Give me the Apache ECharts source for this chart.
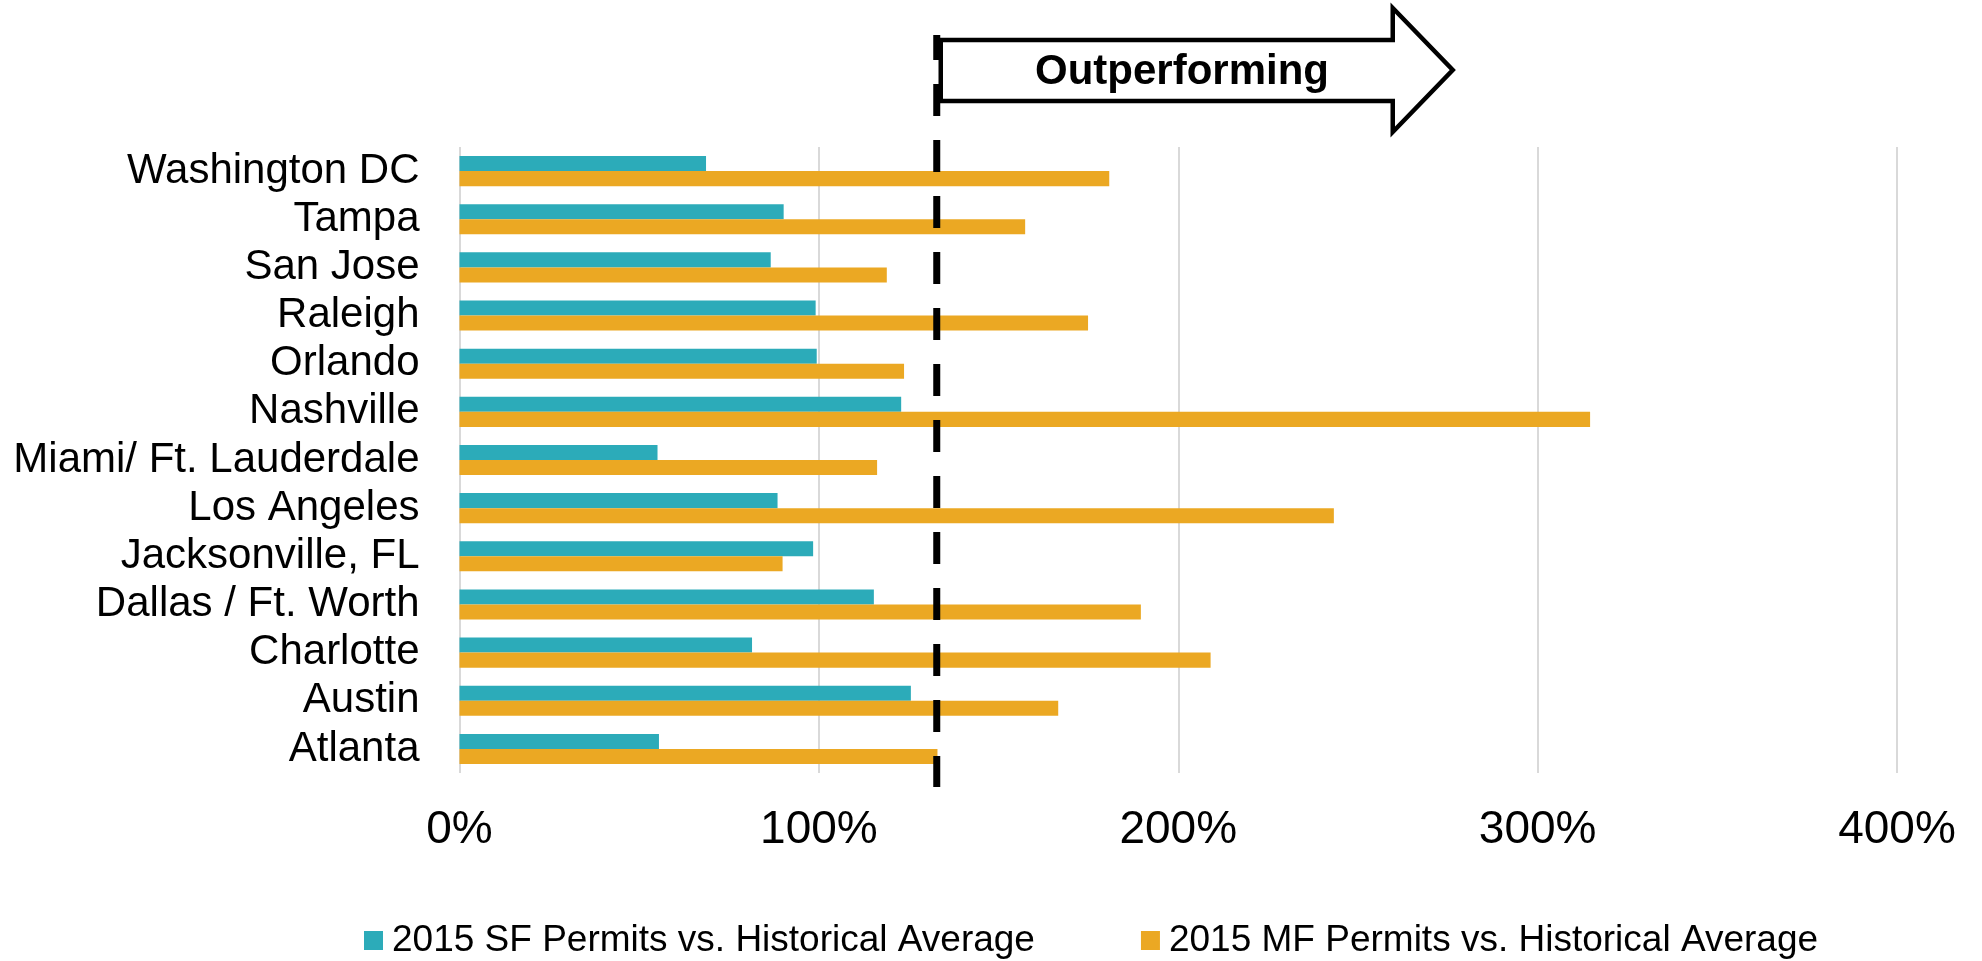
<!DOCTYPE html>
<html>
<head>
<meta charset="utf-8">
<script src="https://cdn.jsdelivr.net/npm/echarts@6/dist/echarts.min.js"></script>
<style>
html,body{margin:0;padding:0;background:#fff;}
#chart{width:1982px;height:961px;}
</style>
</head>
<body>
<div id="chart"></div>
<script>
// Categories bottom to top (ECharts category y-axis starts at bottom)
const categories = ['Atlanta','Austin','Charlotte','Dallas / Ft. Worth','Jacksonville, FL','Los Angeles','Miami/ Ft. Lauderdale','Nashville','Orlando','Raleigh','San Jose','Tampa','Washington DC'];
const sfValues = [55.5, 125.6, 81.4, 115.3, 98.4, 88.5, 55.1, 122.9, 99.4, 99.1, 86.6, 90.2, 68.6];
const mfValues = [133.0, 166.6, 209.0, 189.6, 89.9, 243.3, 116.2, 314.6, 123.7, 174.9, 118.9, 157.4, 180.8];
const seriesNames = ['2015 SF Permits vs. Historical Average', '2015 MF Permits vs. Historical Average'];
const xTicks = [0, 100, 200, 300, 400];
const threshold = 132.8;
const annotationText = 'Outperforming';

const FONT = '"Liberation Sans", Arial, sans-serif';
const TEAL = '#2CABB9';
const ORANGE = '#EBA823';

const chart = echarts.init(document.getElementById('chart'), null, {renderer: 'canvas'});
chart.setOption({
  animation: false,
  backgroundColor: '#fff',
  textStyle: {fontFamily: FONT},
  grid: {left: 459.5, right: 85, top: 147, bottom: 188, containLabel: false},
  legend: {
    data: seriesNames,
    left: 359,
    top: 917,
    itemWidth: 19,
    itemHeight: 19,
    itemGap: 106,
    icon: 'rect',
    textStyle: {fontSize: 37, color: '#000', fontFamily: FONT, padding: [0,0,0,4]}
  },
  xAxis: {
    type: 'value',
    min: xTicks[0],
    max: xTicks[xTicks.length - 1],
    interval: 100,
    axisLine: {show: false},
    axisTick: {show: false},
    splitLine: {show: true, lineStyle: {color: '#D9D9D9', width: 2}},
    axisLabel: {fontSize: 46, color: '#000', fontFamily: FONT, margin: 34, formatter: v => v + '%'}
  },
  yAxis: {
    type: 'category',
    data: categories,
    axisLine: {show: false},
    axisTick: {show: false},
    axisLabel: {interval: 0, fontSize: 42, color: '#000', fontFamily: FONT, margin: 40}
  },
  series: [
    {name: seriesNames[0], type: 'bar', data: sfValues, itemStyle: {color: TEAL}, barGap: '0%', barCategoryGap: '37.5%'},
    {name: seriesNames[1], type: 'bar', data: mfValues, itemStyle: {color: ORANGE}, barGap: '0%', barCategoryGap: '37.5%'}
  ]
});

const tx = chart.convertToPixel({xAxisIndex: 0}, threshold);
const ax = tx + 4;
chart.setOption({
  graphic: [
    {
      type: 'polygon',
      shape: {points: [[ax, 40], [ax + 452, 40], [ax + 452, 8], [ax + 512, 70], [ax + 452, 132], [ax + 452, 101], [ax, 101]]},
      style: {fill: '#fff', stroke: '#000', lineWidth: 4.5, lineJoin: 'miter'},
      z: 100
    },
    {
      type: 'text',
      x: 1182, y: 72,
      style: {text: annotationText, font: 'bold 42px ' + FONT, fill: '#000', textAlign: 'center', textVerticalAlign: 'middle'},
      z: 101
    },
    {
      type: 'line',
      shape: {x1: tx, y1: 35, x2: tx, y2: 787},
      style: {stroke: '#000', lineWidth: 7, lineDash: [32, 24], lineDashOffset: 7},
      z: 102
    }
  ]
});
</script>
</body>
</html>
